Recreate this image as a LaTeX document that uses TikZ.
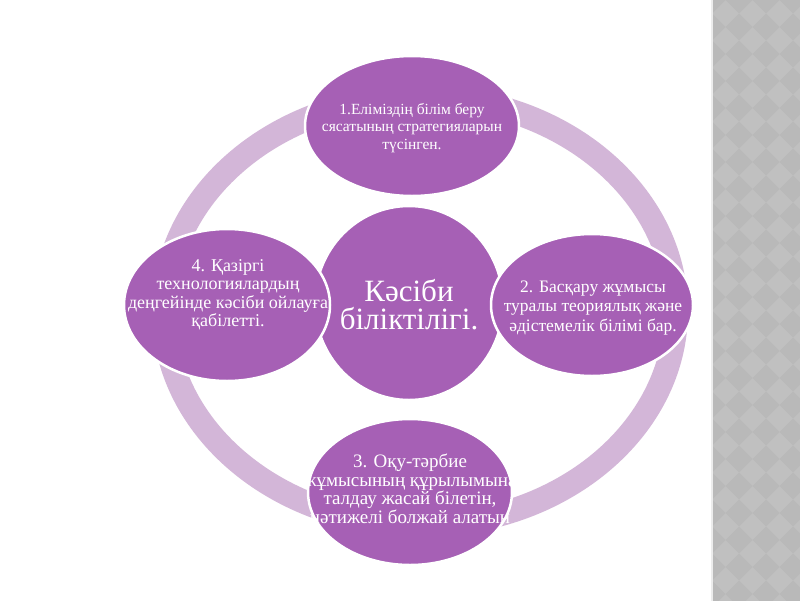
\documentclass[tikz,border=0pt]{standalone}
\usepackage{fontspec}
\setmainfont{Liberation Serif}[Ligatures=TeX]
\newfontfamily\serifx{Liberation Serif}
\definecolor{satfill}{RGB}{166,96,181}
\definecolor{ringfill}{RGB}{211,182,216}
\definecolor{panelA}{RGB}{192,192,192}
\definecolor{panelB}{RGB}{185,185,185}
\begin{document}
\begin{tikzpicture}[x=1pt,y=-1pt,
  bubble/.style={fill=satfill, draw=white, line width=2.5pt},
  txt/.style={text=white, align=center, inner sep=0pt}]
\useasboundingbox (0,0) rectangle (800,600);
\fill[white] (0,0) rectangle (800,600);
% side panel
\begin{scope}
\clip (712,-3) rectangle (803,603);
\fill[panelA] (712,-3) rectangle (803,603);
\foreach \i in {0,...,4}{
  \foreach \j in {0,...,23}{
    \fill[panelB] ({712+27*\i},{27*\j-13.5}) -- ++(13.5,13.5) -- ++(-13.5,13.5) -- ++(-13.5,-13.5) -- cycle;
  }
}
\end{scope}
\draw[white!85!gray, line width=1.5pt] (712,-3) -- (712,603);
% ring
\fill[ringfill, even odd rule] (420,311) ellipse [x radius=268, y radius=226]
                               (420,311) ellipse [x radius=244, y radius=202];
% centre and satellites
\path[bubble] (409,303) ellipse [x radius=94, y radius=97];
\path[bubble] (412,126) ellipse [x radius=107, y radius=70];
\path[bubble] (592,305) ellipse [x radius=101, y radius=71];
\path[bubble] (410,492) ellipse [x radius=102, y radius=73];
\path[bubble] (227,305) ellipse [x radius=103, y radius=76];
% texts
\node[txt, font=\serifx\fontsize{31}{28}\selectfont] (c) at (409,305) {Кәсіби\\біліктілігі.};
\node[txt, font=\serifx\fontsize{15.5}{17.5}\selectfont] (t1) at (412,128) {1.Еліміздің білім беру\\сясатының стратегияларын\\түсінген.};
\node[txt, font=\serifx\fontsize{17.5}{19.5}\selectfont] (t2) at (593,308) {2. Басқару жұмысы\\туралы теориялық және\\әдістемелік білімі бар.};
\node[txt, font=\serifx\fontsize{19}{18.5}\selectfont] (t3) at (410,489) {3. Оқу-тәрбие\\жұмысының құрылымына\\талдау жасай білетін,\\нәтижелі болжай алатын};
\node[txt, font=\serifx\fontsize{18}{18.5}\selectfont] (t4) at (228,295) {4. Қазіргі\\технологиялардың\\деңгейінде кәсіби ойлауға\\қабілетті.};
\end{tikzpicture}
\end{document}
